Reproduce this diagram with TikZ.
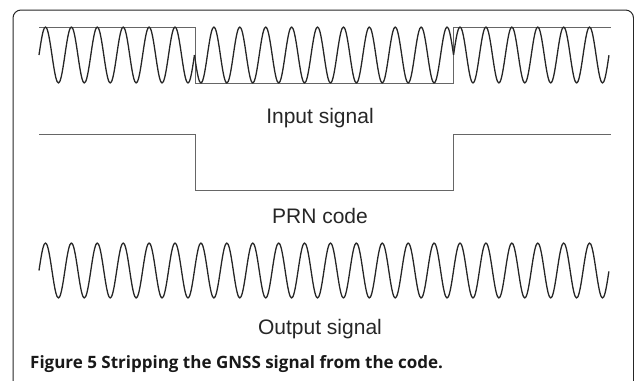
\documentclass[tikz,border=0pt]{standalone}
\usepackage{fontspec}
\setmainfont{Liberation Sans}
\newfontfamily\captionfont{Open Sans}

\begin{document}
\begin{tikzpicture}[
		x=1pt, y=-1pt,
		wave/.style={line width=1.3pt, black!85, line join=round},
		code/.style={line width=0.8pt, black!60},
		sigtext/.style={font=\fontsize{21}{24}\selectfont, text=black!85, anchor=base, inner sep=0pt},
	]
	\useasboundingbox (0,0) rectangle (634,380);

	% -- frame --
	\draw[line width=1pt, black!85, rounded corners=8pt]
		(13,395) -- (13,10) -- (633.5,10) -- (633.5,395);

	% -- input signal --
	\draw[code] (39,27) -- (195,27) -- (195,83) -- (453,83) -- (453,27) -- (611,27);
	\draw[wave] plot[domain=0:6, samples=121, smooth] ({39+\x*570/22}, {55-28*sin(\x*360)});
	\draw[wave] plot[domain=6:16, samples=201, smooth] ({39+\x*570/22}, {55+28*sin(\x*360)});
	\draw[wave] plot[domain=16:22, samples=121, smooth] ({39+\x*570/22}, {55-28*sin(\x*360)});
	\node[sigtext] (insig) at (320,123) {Input signal};

	% -- PRN code --
	\draw[code] (39,134) -- (195,134) -- (195,190) -- (453,190) -- (453,134) -- (611,134);
	\node[sigtext] (prn) at (320,223) {PRN code};

	% -- output signal --
	\draw[wave] plot[domain=0:22, samples=441, smooth] ({39+\x*570/22}, {270.5-27.5*sin(\x*360)});
	\node[sigtext] (outsig) at (320,334) {Output signal};

	% -- caption --
	\node[anchor=base west, inner sep=0pt, text=black!90,
		font=\captionfont\bfseries\fontsize{17}{20}\selectfont] (cap) at (30,368)
		{Figure 5 Stripping the GNSS signal from the code.};
\end{tikzpicture}
\end{document}
